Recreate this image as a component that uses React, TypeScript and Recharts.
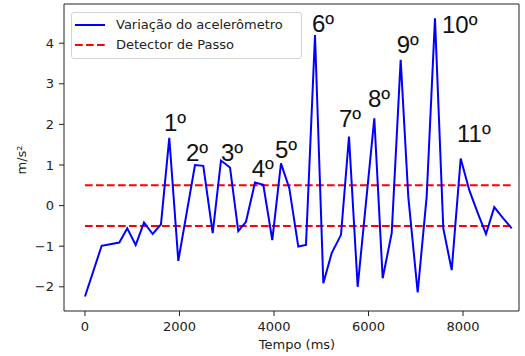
import React from 'react';
import { ComposedChart, Line, Scatter, XAxis, YAxis, ReferenceArea, Label } from 'recharts';

// tempo (ms) e aceleração (m/s²)
const times = [0, 353, 726, 895, 1073, 1249, 1433, 1608, 1784, 1975, 2328, 2504, 2703, 2878, 3069, 3244, 3407, 3598, 3774, 3964, 4148, 4324, 4514, 4677, 4868, 5044, 5221, 5418, 5587, 5771, 6123, 6300, 6491, 6681, 6842, 7041, 7231, 7407, 7583, 7761, 7951, 8133, 8311, 8487, 8662, 8847, 9031];
const accel = [-2.24, -0.99, -0.91, -0.56, -0.97, -0.42, -0.7, -0.46, 1.67, -1.36, 1.0, 0.98, -0.68, 1.11, 0.94, -0.63, -0.4, 0.57, 0.51, -0.85, 1.04, 0.43, -1.01, -0.97, 4.2, -1.91, -1.17, -0.72, 1.7, -2.0, 2.15, -1.79, -0.68, 3.59, 0.22, -2.14, 0.22, 4.61, -0.56, -1.59, 1.16, 0.38, -0.18, -0.7, -0.04, -0.31, -0.56];

// limiares do detector de passo
const thresholdTimes = [0, 9031];
const upperThreshold = [0.5, 0.5];
const lowerThreshold = [-0.5, -0.5];

// rótulos dos passos detectados
const stepLabels = ['1º', '2º', '3º', '4º', '5º', '6º', '7º', '8º', '9º', '10º', '11º'];
const labelTimes = [1672, 2138, 2878, 3528, 4021, 4804, 5376, 5989, 6597, 7556, 7873];
const labelValues = [1.84, 1.11, 1.11, 0.7, 1.17, 4.28, 1.94, 2.44, 3.75, 4.25, 1.57];

const xTicks = [0, 2000, 4000, 6000, 8000];
const yTicks = [-2, -1, 0, 1, 2, 3, 4];
const xDomain = [-444, 9185];
const yDomain = [-2.596, 4.965];

const accelData = times.map((t, i) => ({ t, v: accel[i] }));
const upperData = thresholdTimes.map((t, i) => ({ t, v: upperThreshold[i] }));
const lowerData = thresholdTimes.map((t, i) => ({ t, v: lowerThreshold[i] }));
const labelData = labelTimes.map((t, i) => ({ t, v: labelValues[i], label: stepLabels[i] }));

const FONT = 'DejaVu Sans';
const fmt = (v: number) => (v < 0 ? '\u2212' + Math.abs(v) : String(v));

const StepText = (props: any) => (
  <text x={props.cx} y={props.cy} fontSize={24} fontFamily="Liberation Sans" fill="#111">
    {props.payload.label}
  </text>
);

export default function App() {
  return (
    <div style={{ position: 'absolute', left: 0, top: 0, width: 525, height: 356, background: '#fff' }}>
      <ComposedChart width={525} height={356} margin={{ top: 4, right: 6, bottom: 0, left: 0 }}>
        <XAxis
          dataKey="t"
          type="number"
          domain={xDomain}
          ticks={xTicks}
          allowDataOverflow
          height={45}
          axisLine={false}
          tickSize={5}
          tickMargin={6}
          tickLine={{ stroke: '#222' }}
          tick={{ fill: '#222', fontSize: 13, fontFamily: FONT }}
        >
          <Label
            content={() => (
              <text x={297} y={349} textAnchor="middle" fontSize={13} fontFamily={FONT} fill="#222">
                Tempo (ms)
              </text>
            )}
          />
        </XAxis>
        <YAxis
          dataKey="v"
          type="number"
          domain={yDomain}
          ticks={yTicks}
          allowDataOverflow
          width={64}
          axisLine={false}
          tickSize={5}
          tickMargin={5}
          tickFormatter={fmt}
          tickLine={{ stroke: '#222' }}
          tick={{ fill: '#222', fontSize: 13, fontFamily: FONT }}
        >
          <Label
            content={() => (
              <text
                x={26}
                y={160}
                transform="rotate(-90 26 160)"
                textAnchor="middle"
                fontSize={13}
                fontFamily={FONT}
                fill="#222"
              >
                m/s²
              </text>
            )}
          />
        </YAxis>
        <ReferenceArea
          x1={xDomain[0]}
          x2={xDomain[1]}
          y1={yDomain[0]}
          y2={yDomain[1]}
          fill="none"
          stroke="#222"
          strokeWidth={1}
          ifOverflow="visible"
        />
        <Line
          data={upperData}
          dataKey="v"
          stroke="#ff0000"
          strokeWidth={2}
          strokeDasharray="7.7 3.3"
          dot={false}
          isAnimationActive={false}
        />
        <Line
          data={lowerData}
          dataKey="v"
          stroke="#ff0000"
          strokeWidth={2}
          strokeDasharray="7.7 3.3"
          dot={false}
          isAnimationActive={false}
        />
        <Line
          data={accelData}
          dataKey="v"
          stroke="#0000ff"
          strokeWidth={2}
          dot={false}
          isAnimationActive={false}
        />
        <Scatter data={labelData} dataKey="v" shape={StepText} isAnimationActive={false} />
      </ComposedChart>
      <div
        style={{
          position: 'absolute',
          left: 71,
          top: 12,
          width: 229,
          height: 45,
          border: '1px solid #d4d4d4',
          borderRadius: 3,
          background: 'rgba(255,255,255,0.8)',
          fontFamily: FONT,
          fontSize: 13,
          color: '#222',
        }}
      >
        <svg width={40} height={45} style={{ position: 'absolute', left: 0, top: 0 }}>
          <line x1={3} y1={12} x2={33} y2={12} stroke="#0000ff" strokeWidth={2} />
          <line x1={3} y1={32} x2={33} y2={32} stroke="#ff0000" strokeWidth={2} strokeDasharray="7.7 3.3" />
        </svg>
        <div style={{ position: 'absolute', left: 44, top: 3, lineHeight: '18px', whiteSpace: 'nowrap' }}>
          Variação do acelerômetro
        </div>
        <div style={{ position: 'absolute', left: 44, top: 23, lineHeight: '18px', whiteSpace: 'nowrap' }}>
          Detector de Passo
        </div>
      </div>
    </div>
  );
}
